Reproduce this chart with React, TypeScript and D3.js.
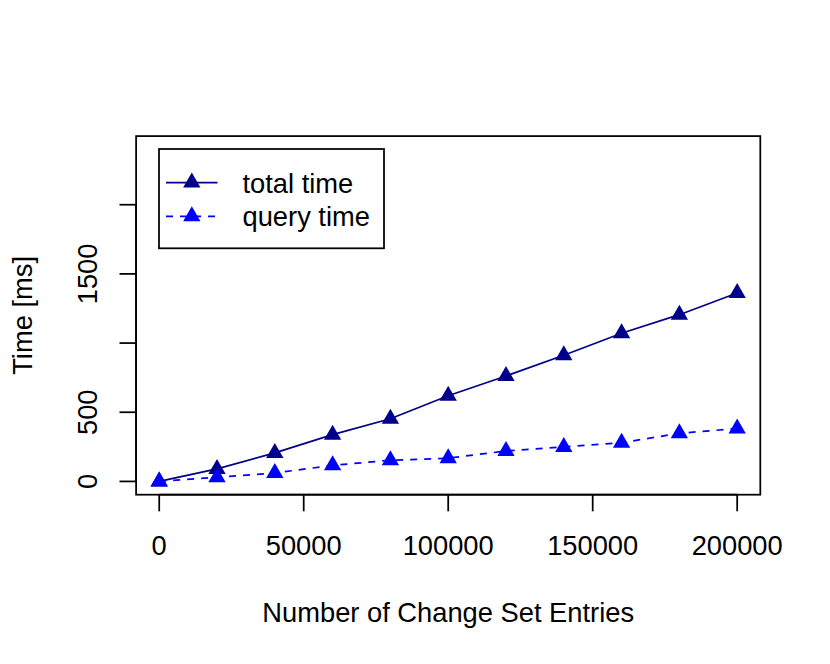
import React from "react";
import * as d3 from "d3";

const entries = [0, 20000, 40000, 60000, 80000, 100000, 120000, 140000, 160000, 180000, 200000];
const totalTime = [0, 90, 206, 338, 453, 619, 762, 912, 1071, 1205, 1362];
const queryTime = [0, 30, 61, 116, 153, 168, 220, 249, 280, 348, 382];

const xTicks = [0, 50000, 100000, 150000, 200000];
const xTickLabels = ["0", "50000", "100000", "150000", "200000"];
const yTicks = [0, 500, 1000, 1500, 2000];
const yTickLabels = ["0", "500", "", "1500", ""];

const seriesNames = ["total time", "query time"];
const seriesColors = ["#00008B", "#0000FF"];
const seriesDash = ["", "7,7"];

const W = 830;
const H = 664;
const L = 136.1, R = 760.3, T = 136.1, B = 494.7;
const FONT = "'Liberation Sans', Arial, Helvetica, sans-serif";
const FS = 27.3;
const LW = 1.75;

function tri(cx: number, cy: number) {
  const r = 10, yc = 5, xc = 8.66;
  return `M${cx},${cy - r}L${cx + xc},${cy + yc}L${cx - xc},${cy + yc}Z`;
}

export default function App() {
  const x = d3.scaleLinear().domain([-8000, 208000]).range([L, R]);
  const y = d3.scaleLinear().domain([-96, 2496]).range([B, T]);
  const line = d3
    .line<number>()
    .x((_, i) => x(entries[i]))
    .y((d) => y(d));
  const series = [totalTime, queryTime];
  const tick = 16.6;

  return (
    <svg
      width={W}
      height={H}
      style={{ position: "absolute", left: 0, top: 0, background: "#fff" }}
      fontFamily={FONT}
    >
      <rect x={0} y={0} width={W} height={H} fill="#fff" />
      {series.map((s, k) => (
        <g key={k}>
          <path
            d={line(s) || ""}
            fill="none"
            stroke={seriesColors[k]}
            strokeWidth={LW}
            strokeDasharray={seriesDash[k] || undefined}
          />
          {s.map((v, i) => (
            <path key={i} d={tri(x(entries[i]), y(v))} fill={seriesColors[k]} />
          ))}
        </g>
      ))}
      <rect x={L} y={T} width={R - L} height={B - T} fill="none" stroke="#000" strokeWidth={LW} />
      <line x1={x(xTicks[0])} x2={x(xTicks[xTicks.length - 1])} y1={B} y2={B} stroke="#000" strokeWidth={LW} />
      {xTicks.map((t, i) => (
        <g key={i}>
          <line x1={x(t)} x2={x(t)} y1={B} y2={B + tick} stroke="#000" strokeWidth={LW} />
          <text x={x(t)} y={555} fontSize={FS} textAnchor="middle" fill="#000">
            {xTickLabels[i]}
          </text>
        </g>
      ))}
      <line x1={L} x2={L} y1={y(yTicks[0])} y2={y(yTicks[yTicks.length - 1])} stroke="#000" strokeWidth={LW} />
      {yTicks.map((t, i) => (
        <g key={i}>
          <line x1={L - tick} x2={L} y1={y(t)} y2={y(t)} stroke="#000" strokeWidth={LW} />
          {yTickLabels[i] && (
            <text
              transform={`translate(97,${y(t)}) rotate(-90)`}
              fontSize={FS}
              textAnchor="middle"
              fill="#000"
            >
              {yTickLabels[i]}
            </text>
          )}
        </g>
      ))}
      <text x={(L + R) / 2} y={621.5} fontSize={FS} textAnchor="middle" fill="#000">
        Number of Change Set Entries
      </text>
      <text transform={`translate(32,${(T + B) / 2}) rotate(-90)`} fontSize={FS} textAnchor="middle" fill="#000">
        Time [ms]
      </text>
      <rect x={159} y={149} width={225} height={99.3} fill="#fff" stroke="#000" strokeWidth={LW} />
      {seriesNames.map((n, k) => {
        const ly = 182.5 + k * 33.8;
        return (
          <g key={k}>
            <line
              x1={166}
              x2={217.5}
              y1={ly}
              y2={ly}
              stroke={seriesColors[k]}
              strokeWidth={LW}
              strokeDasharray={seriesDash[k] || undefined}
            />
            <path d={tri(191.8, ly)} fill={seriesColors[k]} />
            <text x={242.5} y={ly + 10} fontSize={FS} fill="#000">
              {n}
            </text>
          </g>
        );
      })}
    </svg>
  );
}
